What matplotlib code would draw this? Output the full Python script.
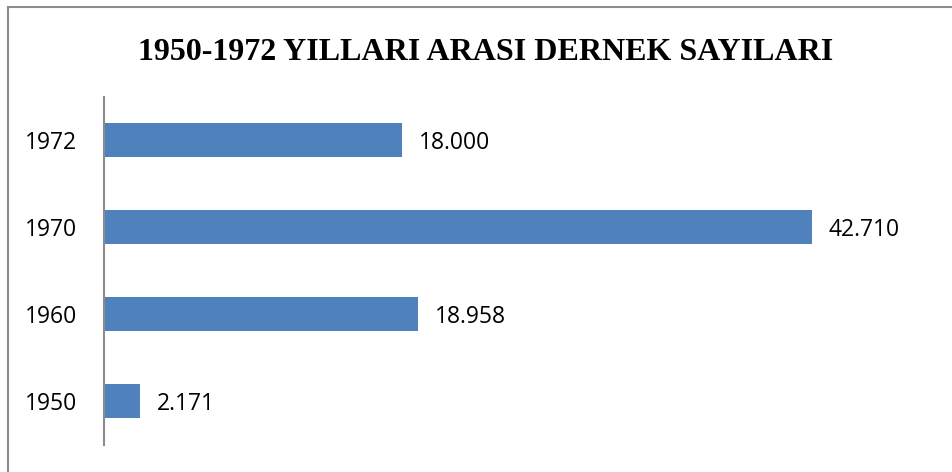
import matplotlib
matplotlib.use("Agg")
import matplotlib.pyplot as plt
from matplotlib.lines import Line2D

years = ["1950", "1960", "1970", "1972"]
counts = [2171, 18958, 42710, 18000]
labels = ["2.171", "18.958", "42.710", "18.000"]
title = "1950-1972 YILLARI ARASI DERNEK SAYILARI"

W, H = 952, 472
fig = plt.figure(figsize=(W / 100, H / 100), dpi=100)
ax = fig.add_axes([104 / W, 1 - 444.5 / H, 829 / W, 348 / H])

ypos = list(range(len(years)))
ax.barh(ypos, counts, height=0.39, color="#4F81BD")
ax.set_xlim(0, 50000)
ax.set_ylim(-0.5, 3.5)
ax.set_yticks(ypos)
ax.set_yticklabels(years, fontfamily="Open Sans", fontsize=16.5)
ax.tick_params(axis="y", length=0, pad=19.5)
ax.set_xticks([])
for s in ["top", "right", "bottom"]:
    ax.spines[s].set_visible(False)
ax.spines["left"].set_color("#8C8C8C")
ax.spines["left"].set_linewidth(1.5)

for y, v, t in zip(ypos, counts, labels):
    ax.annotate(t, (v, y), xytext=(12, -2), textcoords="offset points",
                va="center", ha="left", fontfamily="Open Sans", fontsize=16.5)

fig.text(486 / W, 1 - 53 / H, title, ha="center", va="center",
         fontfamily="Liberation Serif", fontweight="bold", fontsize=23)

# outer border (top and left visible)
fig.add_artist(Line2D([7.5 / W, 1], [1 - 7 / H, 1 - 7 / H], transform=fig.transFigure,
                      color="#8C8C8C", linewidth=1.5))
fig.add_artist(Line2D([7.5 / W, 7.5 / W], [0, 1 - 7 / H], transform=fig.transFigure,
                      color="#8C8C8C", linewidth=1.5))

fig.savefig("out.png", dpi=100)
